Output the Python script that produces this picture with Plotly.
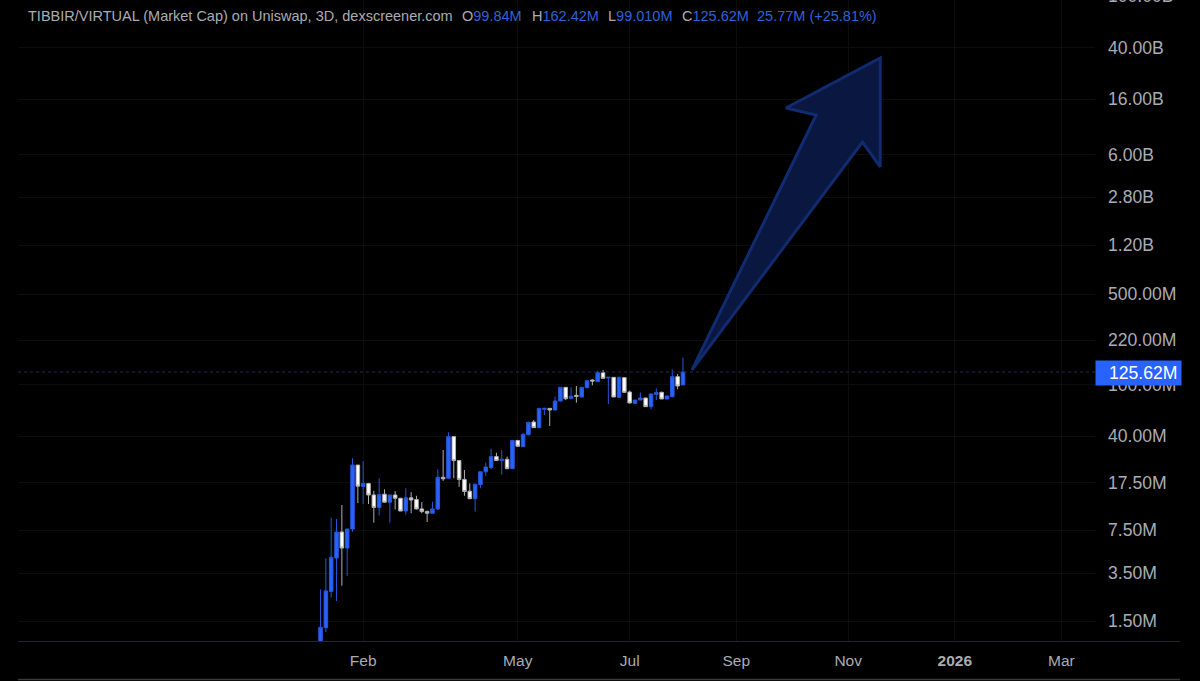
import math
import pandas as pd
import plotly.graph_objects as go

# 3D candles, market cap in millions
first_bar = "2025-01-10"
opens = [0.9, 1.33, 2.54, 4.60, 7.30, 5.49, 7.70, 24.0, 16.4, 17.3, 14.1, 11.3, 14.3, 12.4, 14.1, 13.3, 10.6, 13.4, 13.0, 11.0,
         10.5, 10.2, 11.0, 19.3, 19.0, 39.8, 26.0, 18.6, 15.1, 13.2, 17.0, 21.3, 23.0, 27.9, 26.0, 26.6, 22.5, 37.2, 33.3, 41.2,
         51.6, 46.7, 64.7, 65.8, 63.9, 75.0, 95.6, 78.6, 82.9, 80.5, 95.1, 108.9, 105.8, 124.1, 112.9, 114.2, 80.0, 113.6, 88.0, 71.9,
         76.3, 79.1, 67.8, 84.4, 87.5, 77.7, 81.0, 115.6, 99.84]
highs = [2.63, 4.57, 9.42, 9.20, 11.8, 7.70, 27.1, 24.0, 25.8, 17.5, 15.2, 19.0, 15.6, 14.1, 15.1, 13.4, 15.9, 14.8, 13.9, 12.4,
         10.7, 12.5, 22.2, 31.4, 43.0, 39.8, 26.0, 22.0, 17.3, 17.1, 21.3, 25.1, 32.1, 29.9, 31.4, 27.9, 37.2, 37.2, 42.7, 51.9,
         53.5, 65.8, 65.8, 65.8, 81.0, 95.6, 95.6, 95.6, 97.9, 95.6, 107.7, 110.2, 128.6, 130.1, 114.2, 114.2, 115.6, 113.6, 90.1, 76.3,
         87.5, 79.1, 85.9, 93.9, 88.5, 82.0, 131.7, 121.2, 162.42]
lows = [0.8, 1.23, 2.28, 2.14, 2.81, 3.34, 7.34, 12.2, 12.0, 12.0, 8.62, 9.82, 12.3, 8.62, 10.9, 10.6, 9.93, 10.2, 10.9, 10.2,
        8.72, 10.2, 10.8, 18.1, 19.0, 19.0, 16.3, 13.9, 13.2, 10.5, 15.9, 19.8, 22.3, 26.0, 20.2, 22.5, 22.5, 33.3, 33.3, 40.7,
        46.4, 46.7, 58.5, 48.1, 63.9, 74.1, 76.3, 77.2, 72.8, 80.5, 93.9, 99.1, 105.8, 112.2, 71.1, 80.5, 80.0, 87.0, 71.9, 71.9,
        76.3, 67.8, 64.7, 76.3, 77.7, 77.7, 80.0, 92.3, 99.01]
closes = [1.34, 2.56, 4.65, 7.30, 5.49, 7.70, 24.0, 16.5, 17.3, 14.1, 11.3, 14.2, 12.4, 14.1, 13.3, 10.6, 13.4, 12.9, 11.0, 10.5,
          10.2, 11.0, 19.3, 18.8, 39.8, 26.0, 18.6, 15.0, 13.2, 17.1, 21.3, 23.2, 27.9, 26.0, 26.6, 22.5, 37.2, 33.5, 41.4, 51.3,
          46.7, 65.8, 65.8, 63.9, 75.0, 95.6, 78.1, 81.5, 81.5, 95.6, 107.7, 107.0, 124.1, 112.2, 114.2, 80.5, 114.2, 87.5, 72.4, 76.3,
          79.1, 67.8, 84.9, 87.0, 77.7, 82.0, 115.6, 97.9, 125.62]
dates = pd.date_range(first_bar, periods=len(opens), freq="3D")

# the hand drawn arrow
arrow_dates = ["2025-08-07", "2025-10-16", "2025-09-29", "2025-11-21", "2025-11-21", "2025-11-11", "2025-08-07"]
arrow_caps = [130, 12116, 13720, 33400, 4809, 7500, 130]

x_tick_dates = ["2025-02-03", "2025-05-01", "2025-07-03", "2025-09-01", "2025-11-03", "2026-01-02", "2026-03-03"]
x_tick_labels = ["Feb", "May", "Jul", "Sep", "Nov", "<b>2026</b>", "Mar"]
y_tick_values = [1.5, 3.5, 7.5, 17.5, 40, 100, 220, 500, 1200, 2800, 6000, 16000, 40000, 100000]
y_tick_labels = ["1.50M", "3.50M", "7.50M", "17.50M", "40.00M", "100.00M", "220.00M", "500.00M",
                 "1.20B", "2.80B", "6.00B", "16.00B", "40.00B", "100.00B"]

last_price = 125.62
title_text = "TIBBIR/VIRTUAL (Market Cap) on Uniswap, 3D, dexscreener.com"
ohlc_labels = ["O", "H", "L", "C", ""]
ohlc_values = ["99.84M", "162.42M", "99.010M", "125.62M", "25.77M (+25.81%)"]

BLUE = "#2962ff"
HEADER_BLUE = "#3062d8"
GREY = "#a9acb4"
FONT = "Liberation Sans"
H = 641  # plot height in px
W = 1077  # plot width in px
LEFT = 18
Y_RANGE = [0.0217, 4.9715]


def xpx(p):
    return (p - LEFT) / W


def ypx(p):
    return 1 - p / H


def yval(v):
    # paper position of a value, annotations outside the range still show this way
    return (math.log10(v) - Y_RANGE[0]) / (Y_RANGE[1] - Y_RANGE[0])


fig = go.Figure()

fig.add_trace(go.Scatter(
    x=arrow_dates, y=arrow_caps, mode="lines", fill="toself",
    fillcolor="#0a1740", line=dict(color="#112b70", width=3),
    hoverinfo="skip", showlegend=False,
))

fig.add_trace(go.Candlestick(
    x=dates, open=opens, high=highs, low=lows, close=closes,
    increasing=dict(line=dict(color="#2458d8", width=1), fillcolor=BLUE),
    decreasing=dict(line=dict(color="#b0b0b0", width=1), fillcolor="#ffffff"),
    whiskerwidth=0, showlegend=False,
))

annotations = []
for val, lab in zip(y_tick_values, y_tick_labels):
    annotations.append(dict(
        xref="paper", x=xpx(1106), yref="paper", y=yval(val),
        text=lab, showarrow=False, xanchor="left", yanchor="middle",
        font=dict(family=FONT, size=17.6, color=GREY),
    ))

# last price tag sits over the 100.00M label
annotations.append(dict(
    xref="paper", x=xpx(1095), yref="paper", y=ypx(373),
    text=" ", showarrow=False, xanchor="left", yanchor="middle",
    width=85, height=24, bgcolor=BLUE, borderpad=0,
))
annotations.append(dict(
    xref="paper", x=xpx(1107), yref="paper", y=ypx(373),
    text=f"{last_price:.2f}M", showarrow=False, xanchor="left", yanchor="middle",
    font=dict(family=FONT, size=17.6, color="#ffffff"),
))

# header line
annotations.append(dict(
    xref="paper", x=xpx(26), yref="paper", y=ypx(16), text=title_text,
    showarrow=False, xanchor="left", yanchor="middle",
    font=dict(family=FONT, size=14.5, color=GREY),
))
ohlc_x = [460, 530, 606, 680, 755]
for px, lab, val in zip(ohlc_x, ohlc_labels, ohlc_values):
    annotations.append(dict(
        xref="paper", x=xpx(px), yref="paper", y=ypx(16),
        text=f'{lab}<span style="color:{HEADER_BLUE}">{val}</span>',
        showarrow=False, xanchor="left", yanchor="middle",
        font=dict(family=FONT, size=14.5, color=GREY),
    ))

shapes = [
    # dotted last price line
    dict(type="line", xref="paper", yref="y", x0=0, x1=1, y0=last_price, y1=last_price,
         line=dict(color="#232c5c", width=1, dash="dot")),
    # bottom border lines
    dict(type="line", xref="paper", yref="paper", x0=0, x1=xpx(1180), y0=ypx(641.5), y1=ypx(641.5),
         line=dict(color="#24262e", width=1)),
    dict(type="line", xref="paper", yref="paper", x0=0, x1=xpx(1180), y0=ypx(679.5), y1=ypx(679.5),
         line=dict(color="#3a3a3e", width=1.5)),
]

fig.update_layout(
    width=1200, height=681,
    margin=dict(l=LEFT, r=105, t=0, b=40),
    paper_bgcolor="#000000", plot_bgcolor="#000000",
    boxgap=0.05,
    showlegend=False,
    annotations=annotations, shapes=shapes,
    xaxis=dict(
        type="date", range=["2024-07-23 17:00", "2026-03-21 22:00"],
        rangeslider=dict(visible=False),
        tickmode="array", tickvals=x_tick_dates, ticktext=x_tick_labels,
        tickfont=dict(family=FONT, size=15.5, color=GREY), ticks="", ticklabelstandoff=8,
        showgrid=True, gridcolor="#0c0c0e", gridwidth=1, zeroline=False, showline=False,
    ),
    yaxis=dict(
        type="log", range=Y_RANGE, side="right",
        tickmode="array", tickvals=y_tick_values, showticklabels=False, ticks="",
        showgrid=True, gridcolor="#0c0c0e", gridwidth=1, zeroline=False, showline=False,
    ),
)

fig.write_html("out.html", config=dict(displayModeBar=False),
               post_script="document.body.style.margin='0';document.body.style.background='#000';")
